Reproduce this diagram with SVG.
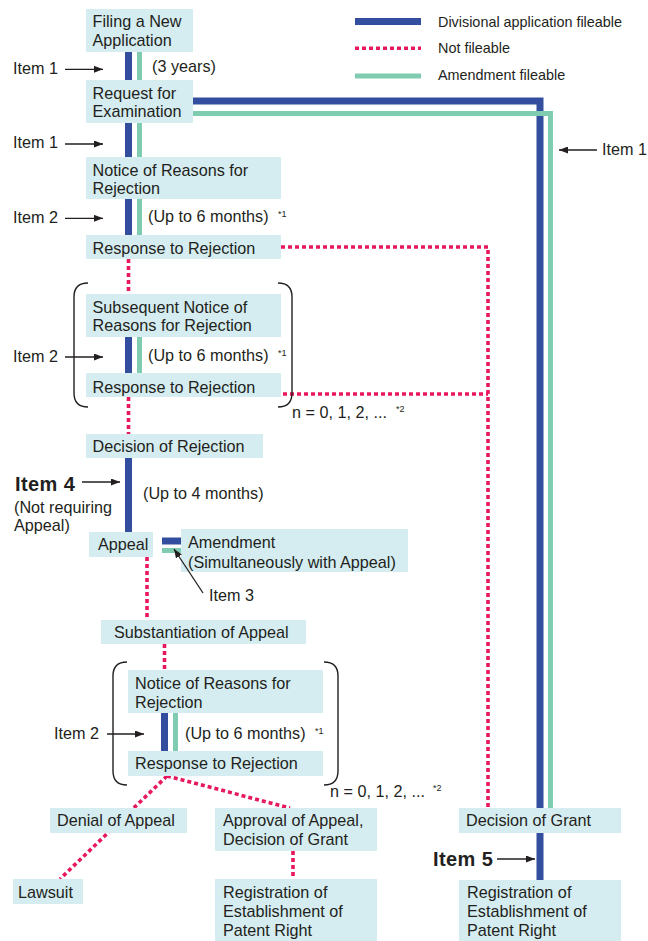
<svg xmlns="http://www.w3.org/2000/svg" width="648" height="941" viewBox="0 0 648 941">
<defs>
<style>
text{font-family:"Liberation Sans",Arial,Helvetica,sans-serif;font-size:16.2px;fill:#231f20}
.bx{fill:#d5edf1}
.blue{stroke:#334e9e;stroke-width:7;fill:none}
.green{stroke:#80ccb1;stroke-width:5;fill:none}
.pink{stroke:#e8185f;stroke-width:3.6;stroke-dasharray:4 3;fill:none}
.arr{stroke:#231f20;stroke-width:1.3;fill:none;marker-end:url(#ah)}
.br{stroke:#231f20;stroke-width:1.4;fill:none}
.b{font-weight:bold;font-size:20px;letter-spacing:0.4px}
.sup{font-size:9px}
.lg{font-size:14.4px}
</style>
<marker id="ah" viewBox="0 0 9 7" refX="9" refY="3.5" markerWidth="9" markerHeight="7" markerUnits="userSpaceOnUse" orient="auto"><path d="M0,0 L9,3.5 L0,7 z" fill="#231f20"/></marker>
</defs>

<g id="legend">
<line class="blue" x1="355" y1="21.5" x2="421" y2="21.5"/>
<text class="lg" x="438" y="26.5">Divisional application fileable</text>
<line class="pink" x1="355" y1="48.3" x2="421" y2="48.3"/>
<text class="lg" x="438" y="53">Not fileable</text>
<line class="green" x1="355" y1="76" x2="421" y2="76"/>
<text class="lg" x="438" y="80">Amendment fileable</text>
</g>

<g id="connectors">
<line class="blue" x1="128.5" y1="50" x2="128.5" y2="237"/>
<line class="green" x1="139.5" y1="50" x2="139.5" y2="237"/>
<line class="blue" x1="128.5" y1="335" x2="128.5" y2="375"/>
<line class="green" x1="139.5" y1="335" x2="139.5" y2="375"/>
<line class="blue" x1="128.5" y1="456" x2="128.5" y2="534"/>
<polyline class="blue" points="190,101 540,101 540,882"/>
<polyline class="green" points="190,113.5 550.5,113.5 550.5,810"/>
<line class="blue" x1="162" y1="541" x2="183" y2="541"/>
<line class="green" x1="162" y1="550.5" x2="183" y2="550.5"/>
<line class="blue" x1="164.5" y1="711" x2="164.5" y2="753"/>
<line class="green" x1="175.5" y1="711" x2="175.5" y2="753"/>
<polyline class="pink" points="281,247 488,247 488,808"/>
<line class="pink" x1="283" y1="394" x2="488" y2="394"/>
<line class="pink" x1="128.5" y1="259" x2="128.5" y2="294"/>
<line class="pink" x1="128.5" y1="397" x2="128.5" y2="434"/>
<line class="pink" x1="147" y1="557" x2="147" y2="620"/>
<line class="pink" x1="164.5" y1="644" x2="164.5" y2="670"/>
<line class="pink" x1="167" y1="776" x2="60" y2="879"/>
<line class="pink" x1="167" y1="776" x2="290" y2="808"/>
<line class="pink" x1="293" y1="851" x2="293" y2="879"/>
<path class="br" d="M88,283 Q74,283 74,297 L74,393 Q74,407 88,407"/>
<path class="br" d="M278,283 Q292,283 292,297 L292,393 Q292,407 278,407"/>
<path class="br" d="M127,662 Q113,662 113,676 L113,771 Q113,785 127,785"/>
<path class="br" d="M324,662 Q338,662 338,676 L338,771 Q338,785 324,785"/>
<line class="arr" x1="65" y1="69.3" x2="103" y2="69.3"/>
<line class="arr" x1="65" y1="144" x2="103" y2="144"/>
<line class="arr" x1="65" y1="218.3" x2="103" y2="218.3"/>
<line class="arr" x1="65" y1="357" x2="103" y2="357"/>
<line class="arr" x1="82" y1="482" x2="120" y2="482"/>
<line class="arr" x1="107" y1="734" x2="144" y2="734"/>
<line class="arr" x1="597" y1="150" x2="559" y2="150"/>
<line class="arr" x1="497" y1="859" x2="535" y2="859"/>
</g>

<g id="n-filing"><rect class="bx" x="86" y="9" width="107" height="43"/><text x="92.5" y="27">Filing a New</text><text x="92.5" y="46">Application</text></g>
<g id="n-request"><rect class="bx" x="86" y="80" width="107" height="43"/><text x="92.5" y="99">Request for</text><text x="92.5" y="117">Examination</text></g>
<g id="n-notice1"><rect class="bx" x="86" y="157" width="195" height="42"/><text x="92.5" y="175.5">Notice of Reasons for</text><text x="92.5" y="194">Rejection</text></g>
<g id="n-response1"><rect class="bx" x="86" y="235" width="195" height="24"/><text x="92.5" y="254">Response to Rejection</text></g>
<g id="n-notice2"><rect class="bx" x="86" y="294" width="195" height="43"/><text x="92.5" y="312.5">Subsequent Notice of</text><text x="92.5" y="331">Reasons for Rejection</text></g>
<g id="n-response2"><rect class="bx" x="86" y="373" width="195" height="24"/><text x="92.5" y="392.5">Response to Rejection</text></g>
<g id="n-decrej"><rect class="bx" x="86" y="434" width="177" height="24"/><text x="92.5" y="452">Decision of Rejection</text></g>
<g id="n-appeal"><rect class="bx" x="89" y="532" width="64" height="25"/><text x="98" y="550">Appeal</text></g>
<g id="n-amend"><rect class="bx" x="181" y="529" width="227" height="43"/><text x="188" y="548">Amendment</text><text x="188" y="567.5">(Simultaneously with Appeal)</text></g>
<g id="n-subst"><rect class="bx" x="101" y="620" width="205" height="24"/><text x="114" y="637.5">Substantiation of Appeal</text></g>
<g id="n-notice3"><rect class="bx" x="128" y="670" width="195" height="43"/><text x="135" y="689">Notice of Reasons for</text><text x="135" y="707.5">Rejection</text></g>
<g id="n-response3"><rect class="bx" x="128" y="751" width="195" height="25"/><text x="135" y="769">Response to Rejection</text></g>
<g id="n-denial"><rect class="bx" x="50" y="808" width="137" height="25"/><text x="57" y="826">Denial of Appeal</text></g>
<g id="n-lawsuit"><rect class="bx" x="13" y="879" width="70" height="25"/><text x="18" y="897.5">Lawsuit</text></g>
<g id="n-approval"><rect class="bx" x="215" y="808" width="162" height="43"/><text x="223" y="826">Approval of Appeal,</text><text x="223" y="845">Decision of Grant</text></g>
<g id="n-reg1"><rect class="bx" x="215" y="879" width="162" height="62"/><text x="223" y="897.5">Registration of</text><text x="223" y="917">Establishment of</text><text x="223" y="936">Patent Right</text></g>
<g id="n-grant"><rect class="bx" x="459" y="808" width="162" height="25"/><text x="466" y="826">Decision of Grant</text></g>
<g id="n-reg2"><rect class="bx" x="459" y="880" width="162" height="61"/><text x="467" y="898">Registration of</text><text x="467" y="917">Establishment of</text><text x="467" y="936">Patent Right</text></g>

<g id="connector-item3">
<line class="arr" x1="203" y1="593" x2="174" y2="549"/>
</g>

<g id="labels">
<text x="13" y="74">Item 1</text>
<text x="152" y="71.5">(3 years)</text>
<text x="13" y="148">Item 1</text>
<text x="13" y="222.5">Item 2</text>
<text x="148" y="222">(Up to 6 months)</text><text class="sup" x="278" y="217">*1</text>
<text x="13" y="361.5">Item 2</text>
<text x="148" y="361">(Up to 6 months)</text><text class="sup" x="278" y="356">*1</text>
<text x="292" y="418">n = 0, 1, 2, ...</text><text class="sup" x="396" y="412">*2</text>
<text class="b" x="15" y="490.5">Item 4</text>
<text x="14" y="512.5">(Not requiring</text>
<text x="14" y="531">Appeal)</text>
<text x="143" y="499">(Up to 4 months)</text>
<text x="209" y="601">Item 3</text>
<text x="54" y="739">Item 2</text>
<text x="185" y="739">(Up to 6 months)</text><text class="sup" x="315" y="734">*1</text>
<text x="330" y="797">n = 0, 1, 2, ...</text><text class="sup" x="433" y="791">*2</text>
<text x="602" y="155">Item 1</text>
<text class="b" x="433" y="866">Item 5</text>
</g>
</svg>
